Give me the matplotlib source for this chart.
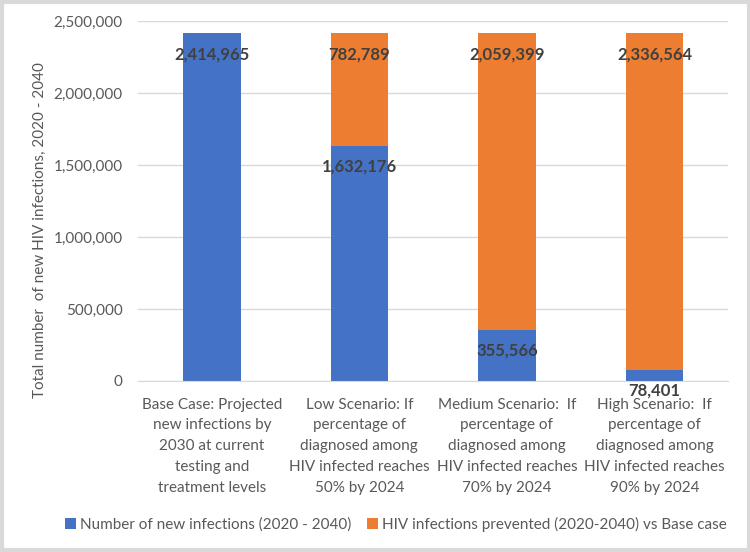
import numpy as np
import matplotlib.pyplot as plt
from matplotlib.patches import Rectangle
from matplotlib.ticker import FuncFormatter

plt.rcParams['font.family'] = ['Lato', 'DejaVu Sans']

# Data
categories = [
    "Base Case: Projected\nnew infections by\n2030 at current\ntesting and\ntreatment levels",
    "Low Scenario: If\npercentage of\ndiagnosed among\nHIV infected reaches\n50% by 2024",
    "Medium Scenario:  If\npercentage of\ndiagnosed among\nHIV infected reaches\n70% by 2024",
    "High Scenario:  If\npercentage of\ndiagnosed among\nHIV infected reaches\n90% by 2024",
]
new_infections = [2414965, 1632176, 355566, 78401]
prevented = [0, 782789, 2059399, 2336564]
series_names = ["Number of new infections (2020 - 2040)",
                "HIV infections prevented (2020-2040) vs Base case"]

BLUE = '#4472C4'
ORANGE = '#ED7D31'
GRID = '#D9D9D9'
TXT = '#595959'

fig = plt.figure(figsize=(7.5, 5.52), dpi=100)
ax = fig.add_axes([0.184, 0.310, 0.787, 0.652])

x = np.arange(len(categories))
bw = 0.39
b1 = ax.bar(x, new_infections, width=bw, color=BLUE, label=series_names[0], zorder=2)
b2 = ax.bar(x, prevented, width=bw, bottom=new_infections, color=ORANGE,
            label=series_names[1], zorder=2)

# value labels, inside end of each segment
for bars, vals, bots in [(b1, new_infections, [0] * 4), (b2, prevented, new_infections)]:
    for bar, v, b in zip(bars, vals, bots):
        if v == 0:
            continue
        ax.annotate(f"{v:,}", (bar.get_x() + bar.get_width() / 2, b + v),
                    xytext=(0, -15), textcoords='offset points',
                    ha='center', va='center', fontsize=12, fontweight='bold',
                    color='#404040', zorder=3)

ax.set_ylim(0, 2500000)
ax.set_xlim(-0.5, 3.5)
ax.set_yticks(np.arange(0, 2500001, 500000))
ax.yaxis.set_major_formatter(FuncFormatter(lambda v, p: f"{int(v):,}"))
ax.set_xticks(x)
ax.set_xticklabels(categories, fontsize=11, color=TXT, linespacing=1.62)
ax.tick_params(axis='y', labelsize=11, labelcolor=TXT, length=0, pad=11)
ax.tick_params(axis='x', length=0, pad=12)
ax.grid(axis='y', color=GRID, lw=1, zorder=0)
for s in ['top', 'right', 'left']:
    ax.spines[s].set_visible(False)
ax.spines['bottom'].set_color(GRID)

ax.set_ylabel("Total number  of new HIV infections, 2020 - 2040",
              fontsize=11, color=TXT)
ax.yaxis.set_label_coords(-0.155, 0.42)

fig.legend(handles=[b1, b2], loc='center', bbox_to_anchor=(0.528, 0.05),
           ncol=2, frameon=False, fontsize=11, labelcolor=TXT,
           handlelength=0.7, handleheight=0.7, handletextpad=0.3,
           columnspacing=1.0)

# grey frame around the chart
fig.patches.append(Rectangle((0.002, 0.003), 0.996, 0.994, transform=fig.transFigure,
                             fill=False, edgecolor=GRID, lw=3))

fig.savefig('out.png', dpi=100)
